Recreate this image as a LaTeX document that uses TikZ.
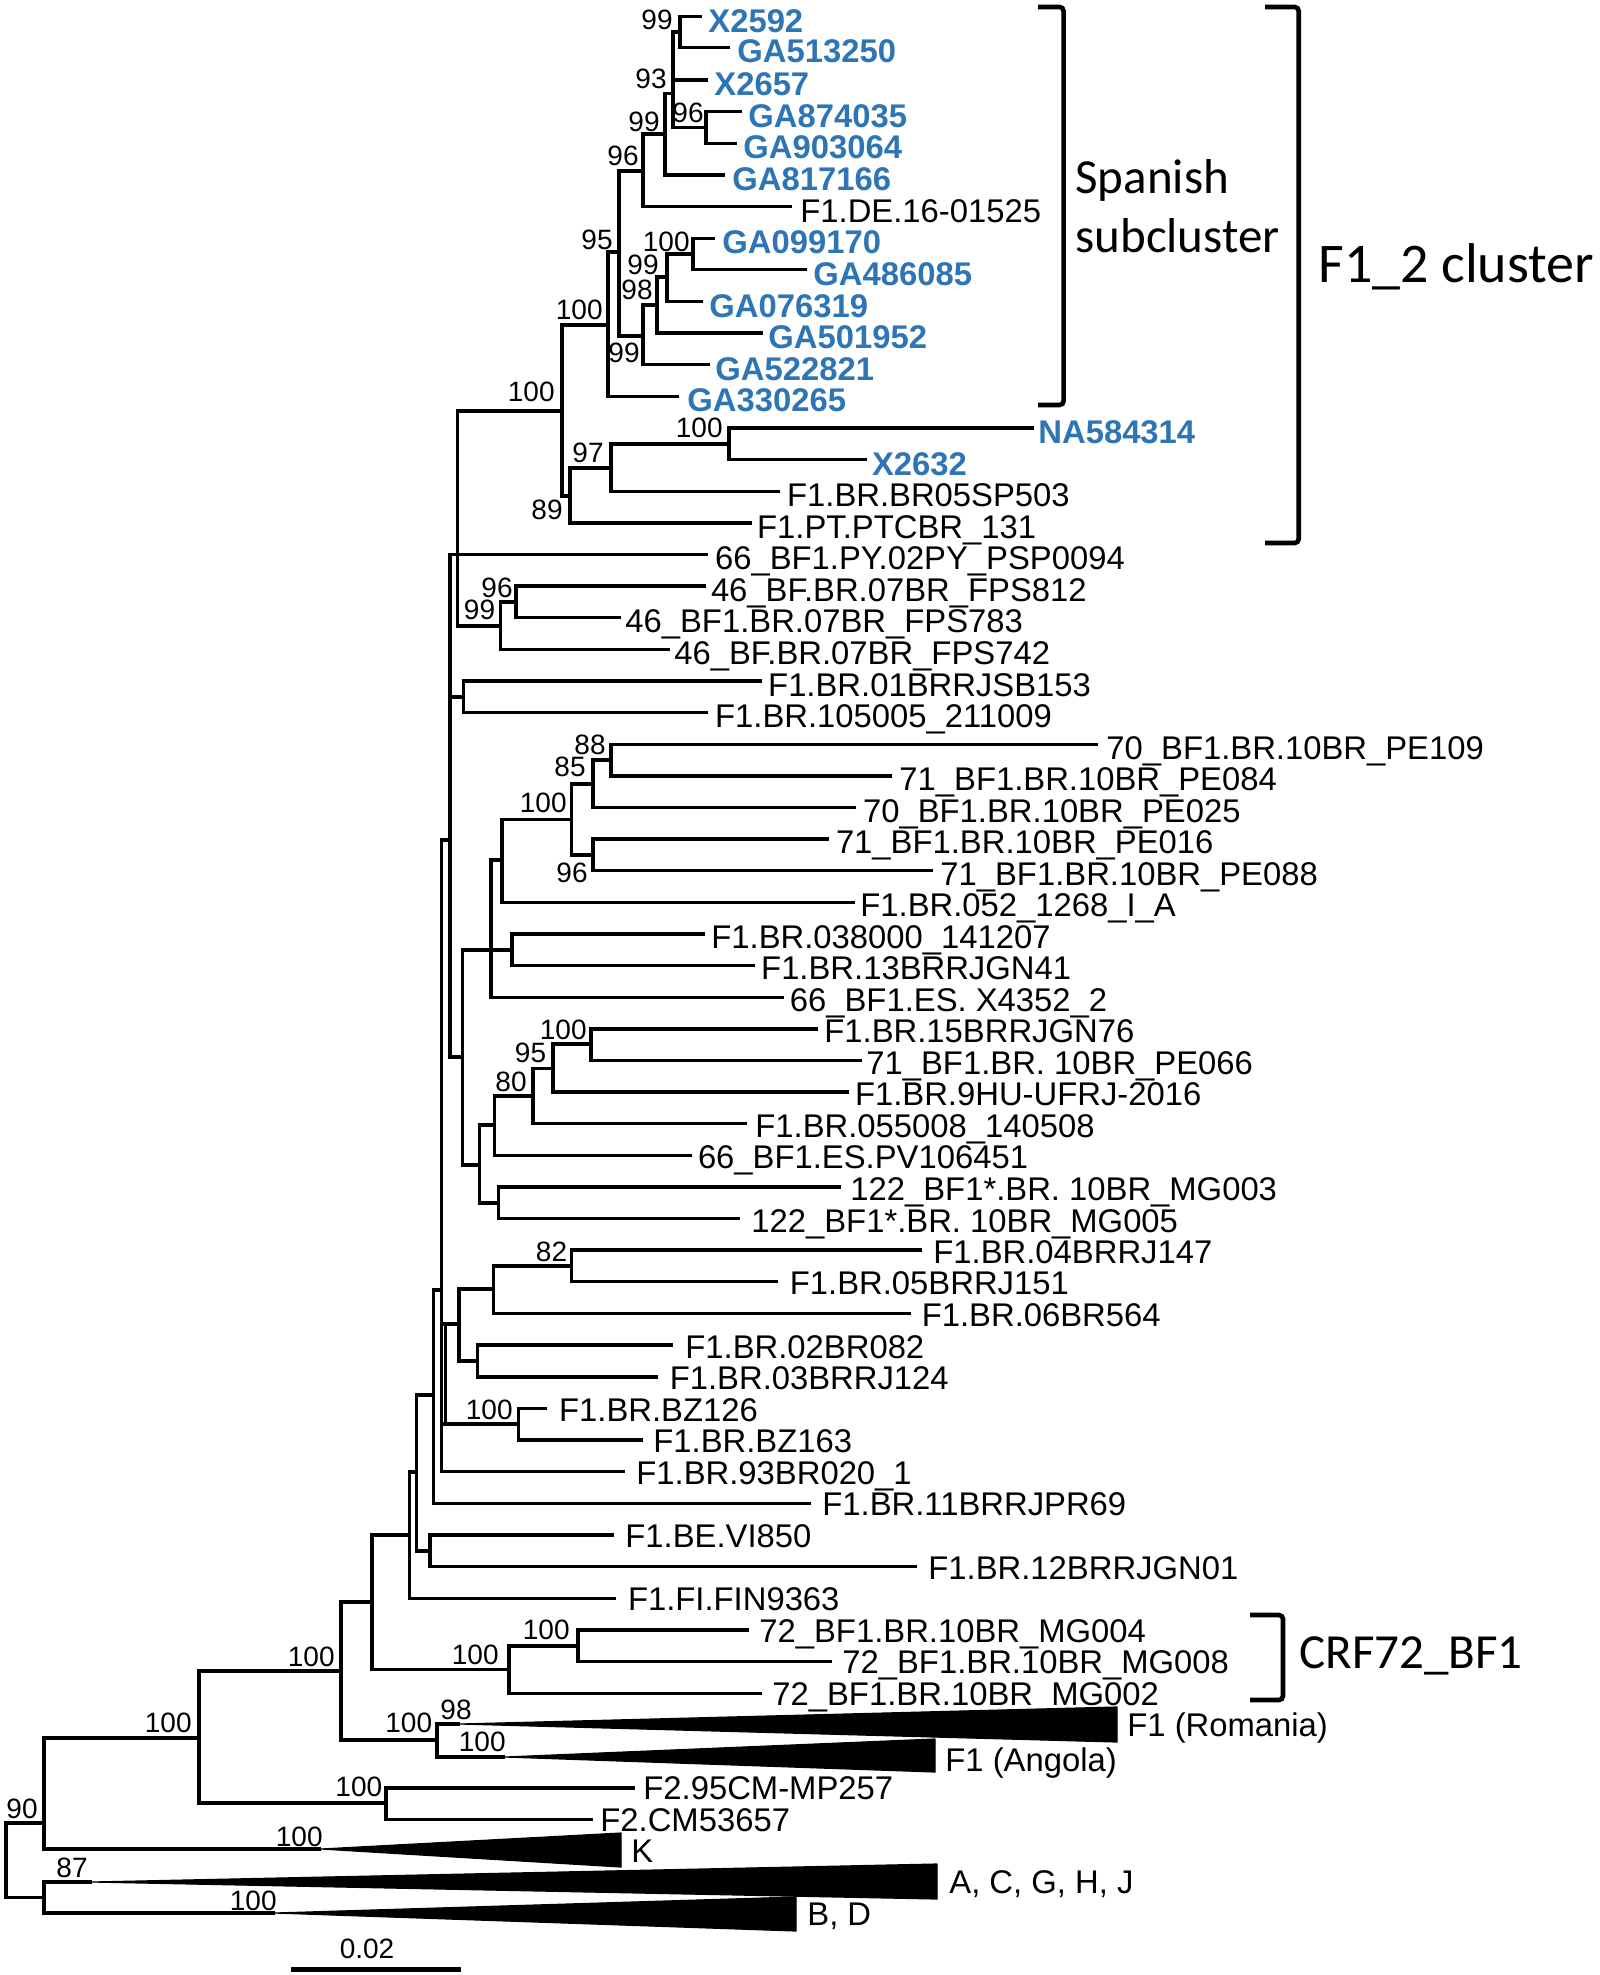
\documentclass[tikz,border=0pt]{standalone}
\usepackage{fontspec}
\setmainfont{Liberation Sans}
\newfontfamily\calibfont{Carlito}
\definecolor{specblue}{RGB}{46,117,182}
\newcommand\mkleaf[7]{%
  \coordinate (#2) at (#3,#4);
  \draw[br] (#1) |- (#2);
  \node[#6, anchor=base west] (#2t) at (#5,{#4+15.5-0.003*max(0,#4-530)}) {#7};
}
\newcommand\mkbs[5]{\node[bs, anchor=#4] (#1) at (#2,#3) {#5};}
\begin{document}
\begin{tikzpicture}[x=0.5pt, y=-0.5pt,
  br/.style={line width=1.6pt},
  lab/.style={inner sep=0pt, font=\fontsize{16.4}{19}\selectfont},
  blab/.style={inner sep=0pt, text=specblue, font=\fontsize{16.4}{19}\selectfont\bfseries},
  bs/.style={inner sep=0pt, font=\fontsize{14}{16}\selectfont},
  brk/.style={line width=2.3pt, rounded corners=2pt},
  big/.style={inner sep=0pt, font=\calibfont\fontsize{24.5}{29}\selectfont},
  tri/.style={fill=black, draw=black, line width=0.6pt, line join=round}]
\useasboundingbox (0,0) rectangle (1600,1975);
\fill[white] (0,0) rectangle (1600,1975);

% internal nodes
\coordinate (R) at (6,1860);
\coordinate (N90) at (44,1823);
\coordinate (N87) at (44,1897.5);
\coordinate (N199) at (199,1738);
\coordinate (NF2) at (386,1803);
\coordinate (N341) at (341,1671);
\coordinate (N437) at (437,1740);
\coordinate (N372) at (372,1602);
\coordinate (N509) at (509,1669.5);
\coordinate (N578) at (578,1646);
\coordinate (N409) at (409.3,1535);
\coordinate (N417) at (416.7,1472);
\coordinate (N430) at (430,1551);
\coordinate (N433) at (433.3,1395);
\coordinate (N442) at (441.7,1290);
\coordinate (N444) at (445.5,1374);
\coordinate (N459) at (459,1324);
\coordinate (N494) at (493.7,1289);
\coordinate (N571) at (571.4,1266);
\coordinate (N477) at (477.6,1361);
\coordinate (N518) at (518.6,1424);
\coordinate (N450) at (450,840);
\coordinate (N458) at (457.5,554.5);
\coordinate (N463) at (463.3,697);
\coordinate (N462) at (462.3,1057);
\coordinate (N491) at (491,950);
\coordinate (N502) at (502,860);
\coordinate (N512) at (512,950);
\coordinate (N571b) at (571.4,819.4);
\coordinate (N593a) at (593,784);
\coordinate (N593b) at (593,855);
\coordinate (N611) at (611,760);
\coordinate (N479) at (479.5,1165);
\coordinate (N495) at (494.8,1125);
\coordinate (N533) at (533,1096);
\coordinate (N553) at (553,1068.3);
\coordinate (N591) at (591,1044);
\coordinate (N498) at (498.6,1203);
\coordinate (N500) at (500.5,626);
\coordinate (N516) at (516,602);
\coordinate (N562) at (562,411);
\coordinate (N608) at (608,325);
\coordinate (N619) at (619,252);
\coordinate (N643a) at (643,171);
\coordinate (N643b) at (643,336);
\coordinate (N665) at (665,134);
\coordinate (N673) at (673,93.6);
\coordinate (N680) at (680,32);
\coordinate (N706) at (706,127.5);
\coordinate (N657) at (657,305);
\coordinate (N667) at (667,277);
\coordinate (N693) at (693,254);
\coordinate (N570) at (570,496);
\coordinate (N611t) at (611,468);
\coordinate (N729) at (729,444);
\coordinate (Kap) at (321,1849);
\coordinate (ACap) at (92,1882);
\coordinate (BDap) at (275,1913);
\coordinate (Rap) at (460,1724);
\coordinate (Aap) at (505,1757);

% internal edges
\draw[br] (R) |- (N90);  \draw[br] (R) |- (N87);
\draw[br] (N90) |- (N199); \draw[br] (N90) |- (Kap);
\draw[br] (N87) |- (ACap); \draw[br] (N87) |- (BDap);
\draw[br] (N199) |- (N341); \draw[br] (N199) |- (NF2);
\draw[br] (N341) |- (N372); \draw[br] (N341) |- (N437);
\draw[br] (N437) |- (Rap); \draw[br] (N437) |- (Aap);
\draw[br] (N372) |- (N409); \draw[br] (N372) |- (N509);
\draw[br] (N509) |- (N578);
\draw[br] (N409) |- (N417);
\draw[br] (N417) |- (N433); \draw[br] (N417) |- (N430);
\draw[br] (N433) |- (N442);
\draw[br] (N442) |- (N450); \draw[br] (N442) |- (N459); \draw[br] (N442) |- (N518);
\draw[br] (N444) |- (N459); \draw[br] (N444) |- (N518);
\draw[br] (N459) |- (N494); \draw[br] (N459) |- (N477);
\draw[br] (N494) |- (N571);
\draw[br] (N450) |- (N458); \draw[br] (N450) |- (N463); \draw[br] (N450) |- (N462);
\draw[br] (N458) |- (N562); \draw[br] (N458) |- (N500);
\draw[br] (N462) |- (N491); \draw[br] (N462) |- (N479);
\draw[br] (N491) |- (N502); \draw[br] (N491) |- (N512);
\draw[br] (N502) |- (N571b);
\draw[br] (N571b) |- (N593a); \draw[br] (N571b) |- (N593b);
\draw[br] (N593a) |- (N611);
\draw[br] (N479) |- (N495); \draw[br] (N479) |- (N498);
\draw[br] (N495) |- (N533);
\draw[br] (N533) |- (N553);
\draw[br] (N553) |- (N591);
\draw[br] (N500) |- (N516);
\draw[br] (N562) |- (N608); \draw[br] (N562) |- (N570);
\draw[br] (N608) |- (N619);
\draw[br] (N619) |- (N643a); \draw[br] (N619) |- (N643b);
\draw[br] (N643a) |- (N665);
\draw[br] (N665) |- (N673);
\draw[br] (N673) |- (N680); \draw[br] (N673) |- (N706);
\draw[br] (N643b) |- (N657);
\draw[br] (N657) |- (N667);
\draw[br] (N667) |- (N693);
\draw[br] (N570) |- (N611t);
\draw[br] (N611t) |- (N729);

% leaves
\mkleaf{N680}{L1}{701.7}{16.8}{708}{blab}{X2592}
\mkleaf{N680}{L2}{730}{47.5}{737}{blab}{GA513250}
\mkleaf{N673}{L3}{708}{80.1}{714}{blab}{X2657}
\mkleaf{N706}{L4}{741.7}{111.7}{748}{blab}{GA874035}
\mkleaf{N706}{L5}{736.7}{143.3}{743}{blab}{GA903064}
\mkleaf{N665}{L6}{725}{175}{732}{blab}{GA817166}
\mkleaf{N643a}{L7}{791.7}{206.6}{800}{lab}{F1.DE.16-01525}
\mkleaf{N693}{L8}{715}{238.2}{722}{blab}{GA099170}
\mkleaf{N693}{L9}{806.7}{269.8}{813}{blab}{GA486085}
\mkleaf{N667}{L10}{702.7}{301.5}{709}{blab}{GA076319}
\mkleaf{N657}{L11}{763}{333}{768}{blab}{GA501952}
\mkleaf{N643b}{L12}{710}{364.7}{715}{blab}{GA522821}
\mkleaf{N608}{L13}{679}{396.4}{687}{blab}{GA330265}
\mkleaf{N729}{L14}{1034}{428}{1038}{blab}{NA584314}
\mkleaf{N729}{L15}{866.7}{459.6}{871.7}{blab}{X2632}
\mkleaf{N611t}{L16}{780}{491.3}{786.7}{lab}{F1.BR.BR05SP503}
\mkleaf{N570}{L17}{751.7}{522.9}{756.7}{lab}{F1.PT.PTCBR\_131}
\mkleaf{N450}{L18}{708}{554.5}{714.7}{lab}{66\_BF1.PY.02PY\_PSP0094}
\mkleaf{N516}{L19}{705.5}{586}{710.6}{lab}{46\_BF.BR.07BR\_FPS812}
\mkleaf{N516}{L20}{620.5}{617.7}{625}{lab}{46\_BF1.BR.07BR\_FPS783}
\mkleaf{N500}{L21}{669.6}{649.3}{674}{lab}{46\_BF.BR.07BR\_FPS742}
\mkleaf{N463}{L22}{761.6}{681}{767.8}{lab}{F1.BR.01BRRJSB153}
\mkleaf{N463}{L23}{708}{712.6}{714.7}{lab}{F1.BR.105005\_211009}
\mkleaf{N611}{L24}{1098}{744.3}{1106}{lab}{70\_BF1.BR.10BR\_PE109}
\mkleaf{N611}{L25}{891.7}{776}{899}{lab}{71\_BF1.BR.10BR\_PE084}
\mkleaf{N593a}{L26}{856}{807.5}{862.7}{lab}{70\_BF1.BR.10BR\_PE025}
\mkleaf{N593b}{L27}{829}{839}{835.6}{lab}{71\_BF1.BR.10BR\_PE016}
\mkleaf{N593b}{L28}{932.5}{870.8}{940}{lab}{71\_BF1.BR.10BR\_PE088}
\mkleaf{N502}{L29}{854.6}{902.5}{860}{lab}{F1.BR.052\_1268\_I\_A}
\mkleaf{N512}{L30}{705}{934}{711}{lab}{F1.BR.038000\_141207}
\mkleaf{N512}{L31}{755}{965.7}{760.8}{lab}{F1.BR.13BRRJGN41}
\mkleaf{N491}{L32}{783.7}{997.3}{789.5}{lab}{66\_BF1.ES. X4352\_2}
\mkleaf{N591}{L33}{818}{1028.9}{824}{lab}{F1.BR.15BRRJGN76}
\mkleaf{N591}{L34}{862}{1060.5}{866}{lab}{71\_BF1.BR. 10BR\_PE066}
\mkleaf{N553}{L35}{849}{1092}{854.6}{lab}{F1.BR.9HU-UFRJ-2016}
\mkleaf{N533}{L36}{747}{1123.6}{755}{lab}{F1.BR.055008\_140508}
\mkleaf{N495}{L37}{692}{1155.3}{697.6}{lab}{66\_BF1.ES.PV106451}
\mkleaf{N498}{L38}{841}{1187}{850}{lab}{122\_BF1*.BR. 10BR\_MG003}
\mkleaf{N498}{L39}{739.7}{1218.6}{751}{lab}{122\_BF1*.BR. 10BR\_MG005}
\mkleaf{N571}{L40}{922}{1250}{933}{lab}{F1.BR.04BRRJ147}
\mkleaf{N571}{L41}{778}{1281.7}{789.5}{lab}{F1.BR.05BRRJ151}
\mkleaf{N494}{L42}{911}{1313.6}{921.4}{lab}{F1.BR.06BR564}
\mkleaf{N477}{L43}{673}{1345}{685}{lab}{F1.BR.02BR082}
\mkleaf{N477}{L44}{658}{1376.9}{669.4}{lab}{F1.BR.03BRRJ124}
\mkleaf{N518}{L45}{547}{1408.5}{558.7}{lab}{F1.BR.BZ126}
\mkleaf{N518}{L46}{643}{1440}{653}{lab}{F1.BR.BZ163}
\mkleaf{N442}{L47}{625}{1471.8}{636}{lab}{F1.BR.93BR020\_1}
\mkleaf{N433}{L48}{810.7}{1503.4}{822}{lab}{F1.BR.11BRRJPR69}
\mkleaf{N430}{L49}{614.4}{1535}{625}{lab}{F1.BE.VI850}
\mkleaf{N430}{L50}{916.8}{1566.7}{928}{lab}{F1.BR.12BRRJGN01}
\mkleaf{N409}{L51}{616}{1598.3}{627.6}{lab}{F1.FI.FIN9363}
\mkleaf{N578}{L52}{749}{1630}{759}{lab}{72\_BF1.BR.10BR\_MG004}
\mkleaf{N578}{L53}{832}{1661.6}{842}{lab}{72\_BF1.BR.10BR\_MG008}
\mkleaf{N509}{L54}{762}{1693.2}{772}{lab}{72\_BF1.BR.10BR\_MG002}
\mkleaf{NF2}{L57}{635}{1788}{643}{lab}{F2.95CM-MP257}
\mkleaf{NF2}{L58}{593}{1819.5}{600}{lab}{F2.CM53657}

% collapsed clades
\path[tri] (Rap) -- (1117,1707) -- (1117,1742) -- cycle;
\path[tri] (Aap) -- (935,1739) -- (935,1772) -- cycle;
\path[tri] (Kap) -- (621,1833) -- (621,1867) -- cycle;
\path[tri] (ACap) -- (937,1864) -- (937,1899) -- cycle;
\path[tri] (BDap) -- (796,1897) -- (796,1931) -- cycle;
\node[lab, anchor=base west] (TR) at (1127,1736) {F1 (Romania)};
\node[lab, anchor=base west] (TA) at (945,1771) {F1 (Angola)};
\node[lab, anchor=base west] (TK) at (631,1862) {K};
\node[lab, anchor=base west] (TAC) at (949,1893) {A, C, G, H, J};
\node[lab, anchor=base west] (TBD) at (807,1925) {B, D};

% support values
\mkbs{b1}{673}{30}{south east}{99}
\mkbs{b2}{667}{89}{south east}{93}
\mkbs{b3}{704}{123}{south east}{96}
\mkbs{b4}{660}{132}{south east}{99}
\mkbs{b5}{639}{166}{south east}{96}
\mkbs{b6}{613}{250}{south east}{95}
\mkbs{b7}{690}{252}{south east}{100}
\mkbs{b8}{659}{275}{south east}{99}
\mkbs{b9}{653}{300}{south east}{98}
\mkbs{b10}{640}{343}{north east}{99}
\mkbs{b11}{603}{320}{south east}{100}
\mkbs{b12}{555}{402}{south east}{100}
\mkbs{b13}{723}{438}{south east}{100}
\mkbs{b14}{604}{463}{south east}{97}
\mkbs{b15}{563}{500}{north east}{89}
\mkbs{b16}{513}{598}{south east}{96}
\mkbs{b17}{495.5}{620}{south east}{99}
\mkbs{b18}{606}{755}{south east}{88}
\mkbs{b19}{586}{777}{south east}{85}
\mkbs{b20}{567}{813}{south east}{100}
\mkbs{b21}{588}{863}{north east}{96}
\mkbs{b22}{587}{1040}{south east}{100}
\mkbs{b23}{546.5}{1063}{south east}{95}
\mkbs{b24}{527}{1092}{south east}{80}
\mkbs{b25}{567.5}{1262}{south east}{82}
\mkbs{b26}{513}{1420}{south east}{100}
\mkbs{b27}{570}{1640}{south east}{100}
\mkbs{b28}{499}{1665}{south east}{100}
\mkbs{b29}{335}{1667}{south east}{100}
\mkbs{b30}{192}{1733}{south east}{100}
\mkbs{b31}{432.5}{1733}{south east}{100}
\mkbs{b32}{472}{1720}{south east}{98}
\mkbs{b33}{506}{1752}{south east}{100}
\mkbs{b34}{382.6}{1797}{south east}{100}
\mkbs{b35}{323}{1847}{south east}{100}
\mkbs{b36}{88}{1878}{south east}{87}
\mkbs{b37}{277}{1911}{south east}{100}
\mkbs{b38}{38}{1819}{south east}{90}

% brackets
\draw[brk] (1038,7) -- (1063.6,7) -- (1063.6,405) -- (1038,405);
\draw[brk] (1265,7) -- (1298.7,7) -- (1298.7,543) -- (1265,543);
\draw[brk] (1250,1615) -- (1283,1615) -- (1283,1700) -- (1250,1700);
\node[big, anchor=base west] (SP1) at (1075,193) {Spanish};
\node[big, anchor=base west] (SP2) at (1075,252) {subcluster};
\node[big, anchor=base west, font=\calibfont\fontsize{28}{33}\selectfont] (F12) at (1318,282) {F1\_2 cluster};
\node[big, anchor=base west] (CRF) at (1299,1668) {CRF72\_BF1};

% scale bar
\coordinate (SB1) at (291,1969.5);
\coordinate (SB2) at (461,1969.5);
\draw[line width=2.5pt] (SB1) -- (SB2);
\node[bs, anchor=base] (SBL) at (367,1958) {0.02};
\end{tikzpicture}
\end{document}
